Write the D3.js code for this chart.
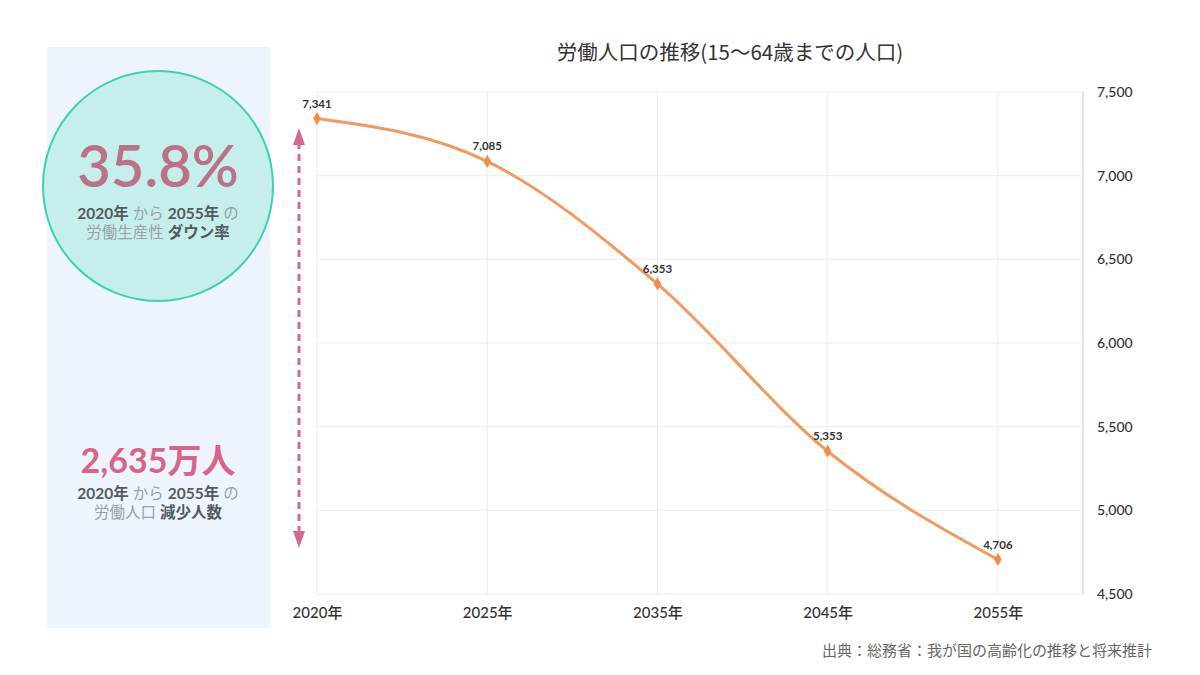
<!DOCTYPE html>
<html><head><meta charset="utf-8">
<script src="https://cdn.jsdelivr.net/npm/d3@7"></script>
<style>body{margin:0;background:#fff;}svg{display:block;}</style>
</head><body>
<svg id="c" width="1200" height="675"></svg>
<script>
const categories = ["2020年","2025年","2035年","2045年","2055年"];
const values = [7341, 7085, 6353, 5353, 4706];
const yTicks = [4500, 5000, 5500, 6000, 6500, 7000, 7500];
const titleText = "労働人口の推移(15〜64歳までの人口)";
const sourceText = "出典：総務省：我が国の高齢化の推移と将来推計";
const kpi1 = "35.8%";
const kpi2 = "2,635万人";

const FONT = "Lato, 'Noto Sans CJK JP', sans-serif";
const svg = d3.select("#c");

// Left panel
svg.append("rect").attr("x",47).attr("y",47).attr("width",223).attr("height",581).attr("fill","#edf4fc");
svg.append("circle").attr("cx",158).attr("cy",186).attr("r",115)
  .attr("fill","#c6efec").attr("stroke","#3fcfb2").attr("stroke-width",2);
svg.append("text").attr("x",158).attr("y",187).attr("text-anchor","middle")
  .attr("font-family",FONT).attr("font-size",58).attr("font-weight",600).attr("fill","#bb7189").text(kpi1);

function subLine(y, parts){
  const t = svg.append("text").attr("x",158).attr("y",y).attr("text-anchor","middle")
    .attr("font-family",FONT).attr("font-size",15.5);
  parts.forEach(p=>{
    t.append("tspan").attr("font-weight",p[1]?700:400).attr("fill",p[1]?"#555a5e":"#9aa0a4").text(p[0]);
  });
}
subLine(219, [["2020年",1],[" から ",0],["2055年",1],[" の",0]]);
subLine(238, [["労働生産性 ",0],["ダウン率",1]]);

svg.append("text").attr("x",158).attr("y",473).attr("text-anchor","middle")
  .attr("font-family",FONT).attr("font-size",34).attr("font-weight",700).attr("fill","#d9638b").text(kpi2);
subLine(499, [["2020年",1],[" から ",0],["2055年",1],[" の",0]]);
subLine(518, [["労働人口 ",0],["減少人数",1]]);

// Chart
const x = d3.scaleLinear().domain([0, categories.length - 0.5]).range([317, 1083]);
const y = d3.scaleLinear().domain([4500, 7500]).range([594, 92]);

const g = svg.append("g");
g.selectAll("line.h").data(yTicks).join("line")
  .attr("x1",317).attr("x2",1083).attr("y1",d=>y(d)).attr("y2",d=>y(d))
  .attr("stroke","#ececec").attr("stroke-width",1);
g.selectAll("line.v").data(categories).join("line")
  .attr("x1",(d,i)=>x(i)).attr("x2",(d,i)=>x(i)).attr("y1",y(7500)).attr("y2",y(4500))
  .attr("stroke","#ececec").attr("stroke-width",1);
g.append("line").attr("x1",1083).attr("x2",1083).attr("y1",y(7500)).attr("y2",y(4500))
  .attr("stroke","#cfcfcf").attr("stroke-width",1.2);

const yAxis = d3.axisRight(y).tickValues(yTicks).tickFormat(d3.format(",")).tickSize(0).tickPadding(14);
const ya = svg.append("g").attr("transform","translate(1083,0)").call(yAxis);
ya.select(".domain").remove();
ya.selectAll("text").attr("font-family",FONT).attr("font-size",14).attr("fill","#333").attr("font-weight",500);

const xAxis = d3.axisBottom(x).tickValues(d3.range(categories.length)).tickFormat(i=>categories[i]).tickSize(0).tickPadding(13);
const xa = svg.append("g").attr("transform","translate(0,594)").call(xAxis);
xa.select(".domain").remove();
xa.selectAll("text").attr("font-family",FONT).attr("font-size",15).attr("fill","#333").attr("font-weight",500);

const line = d3.line().x((d,i)=>x(i)).y(d=>y(d)).curve(d3.curveMonotoneX);
svg.append("path").datum(values).attr("d",line).attr("fill","none")
  .attr("stroke","#ef9a5e").attr("stroke-width",3).attr("stroke-linecap","round");

svg.selectAll("path.m").data(values).join("path")
  .attr("transform",(d,i)=>`translate(${x(i)},${y(d)})`)
  .attr("d", d3.symbol(d3.symbolDiamond, 50)())
  .attr("fill","#ef8a4a");

svg.selectAll("text.lbl").data(values).join("text")
  .attr("x",(d,i)=>x(i)).attr("y",d=>y(d)-11).attr("text-anchor","middle")
  .attr("font-family",FONT).attr("font-size",11.5).attr("font-weight",700).attr("fill","#333")
  .text(d=>d3.format(",")(d));

const ac = "#d6688f";
svg.append("line").attr("x1",299).attr("x2",299).attr("y1",142).attr("y2",534)
  .attr("stroke",ac).attr("stroke-width",3).attr("stroke-dasharray","7,5");
svg.append("path").attr("d","M299,128 L293,145 L305,145 Z").attr("fill",ac);
svg.append("path").attr("d","M299,548 L293,531 L305,531 Z").attr("fill",ac);

svg.append("text").attr("x",730).attr("y",60).attr("text-anchor","middle")
  .attr("font-family","'Noto Sans CJK JP', sans-serif").attr("font-size",20.5).attr("fill","#333").text(titleText);

svg.append("text").attr("x",1152).attr("y",656).attr("text-anchor","end")
  .attr("font-family","'Noto Sans CJK JP', sans-serif").attr("font-size",15).attr("fill","#666").text(sourceText);
</script>
</body></html>
